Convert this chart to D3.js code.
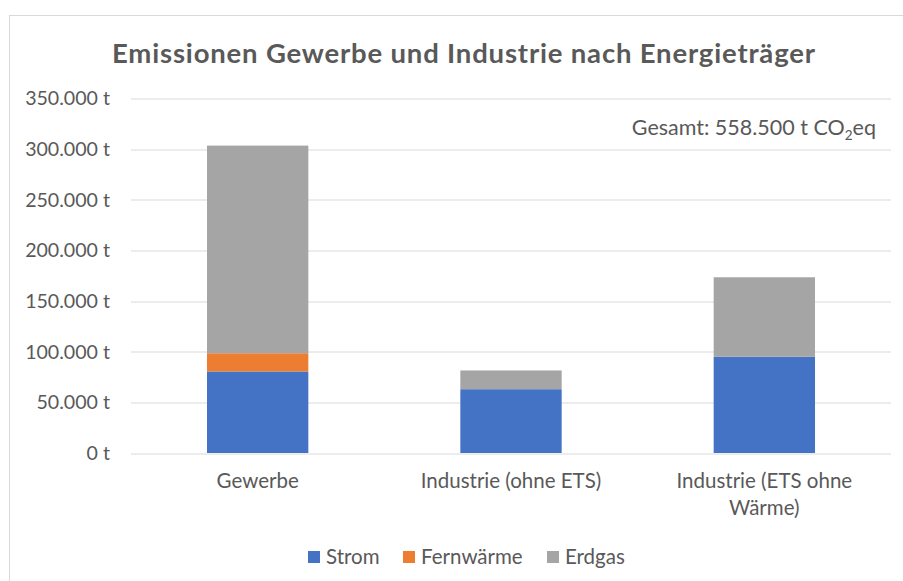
<!DOCTYPE html>
<html>
<head>
<meta charset="utf-8">
<script src="https://cdn.jsdelivr.net/npm/d3@7"></script>
<style>
  body { margin: 0; background: #fff; }
  svg { font-family: Lato, "Open Sans", sans-serif; }
  .grid line { stroke: #d9d9d9; stroke-width: 1; }
  .tick-label { fill: #595959; font-size: 20.5px; }
  .y-label { font-size: 19.6px; }
  .note { fill: #595959; font-size: 21.5px; }
  .title { fill: #595959; font-size: 27.5px; font-weight: bold; }
</style>
</head>
<body>
<div id="chart"></div>
<script>
// Data (tonnes CO2eq, in thousands)
const categories = ["Gewerbe", "Industrie (ohne ETS)", "Industrie (ETS ohne Wärme)"];
const series = ["Strom", "Fernwärme", "Erdgas"];
const strom = [80.5, 63, 95];
const fernwaerme = [18, 0, 0];
const erdgas = [205, 18.5, 78.5];
const yTicks = [0, 50, 100, 150, 200, 250, 300, 350];
const colors = ["#4472C4", "#ED7D31", "#A5A5A5"];
const totalLabel = "558.500";

const W = 903, H = 581;
const margin = { top: 98.5, right: 12, bottom: 128, left: 131 };
const width = 891 - margin.left;
const height = 453 - margin.top;

const svg = d3.select("#chart").append("svg")
    .attr("width", W)
    .attr("height", H);

// chart border
svg.append("rect")
    .attr("x", 9.5).attr("y", 15.5)
    .attr("width", W + 20).attr("height", H + 20)
    .attr("fill", "none")
    .attr("stroke", "#d9d9d9");

const g = svg.append("g")
    .attr("transform", `translate(${margin.left},${margin.top})`);

// title
svg.append("text")
    .attr("class", "title")
    .attr("x", 112)
    .attr("y", 63)
    .attr("textLength", 703)
    .attr("lengthAdjust", "spacing")
    .text("Emissionen Gewerbe und Industrie nach Energieträger");

const x = d3.scaleBand()
    .domain(categories)
    .range([0, width])
    .paddingInner(0.6)
    .paddingOuter(0.3);

const y = d3.scaleLinear()
    .domain([0, 350])
    .range([height, 0]);

// gridlines
const grid = g.append("g").attr("class", "grid");
grid.selectAll("line")
    .data(yTicks)
    .join("line")
    .attr("x1", 0)
    .attr("x2", width)
    .attr("y1", d => Math.round(y(d)) + 0.5)
    .attr("y2", d => Math.round(y(d)) + 0.5);

// y labels
g.append("g").selectAll("text")
    .data(yTicks)
    .join("text")
    .attr("class", "tick-label y-label")
    .attr("x", -21)
    .attr("y", d => y(d))
    .attr("dy", "0.35em")
    .attr("text-anchor", "end")
    .text(d => (d === 0 ? "0 t" : d + ".000 t"));

// stacked bars
const rows = categories.map((c, i) => ({
    cat: c, Strom: strom[i], "Fernwärme": fernwaerme[i], Erdgas: erdgas[i]
}));
const stack = d3.stack().keys(series)(rows);

g.selectAll(".layer")
    .data(stack)
    .join("g")
    .attr("class", "layer")
    .attr("fill", (d, i) => colors[i])
    .selectAll("rect")
    .data(d => d)
    .join("rect")
    .attr("x", d => x(d.data.cat))
    .attr("width", x.bandwidth())
    .attr("y", d => y(d[1]))
    .attr("height", d => y(d[0]) - y(d[1]));

// category labels (wrapped)
const catG = g.append("g");
categories.forEach(c => {
    const cx = x(c) + x.bandwidth() / 2;
    const t = catG.append("text")
        .attr("class", "tick-label")
        .attr("text-anchor", "middle")
        .attr("x", cx)
        .attr("y", height + 35);
    const words = c.split(" ");
    let line = [];
    let tspan = t.append("tspan").attr("x", cx).attr("dy", 0);
    words.forEach(w => {
        line.push(w);
        tspan.text(line.join(" "));
        if (tspan.node().getComputedTextLength() > 220 && line.length > 1) {
            line.pop();
            tspan.text(line.join(" "));
            line = [w];
            tspan = t.append("tspan")
                .attr("x", cx)
                .attr("dy", 27)
                .text(w);
        }
    });
});

// total annotation
const ann = svg.append("text")
    .attr("class", "note")
    .attr("x", 876)
    .attr("y", 135)
    .attr("text-anchor", "end");
ann.append("tspan").text(`Gesamt: ${totalLabel} t CO`);
ann.append("tspan").attr("font-size", "13.5px").attr("dy", 5).text("2");
ann.append("tspan").attr("dy", -5).text("eq");

// legend
const legendX = [308, 403, 547];
const legend = svg.append("g");
series.forEach((s, i) => {
    legend.append("rect")
        .attr("x", legendX[i]).attr("y", 551)
        .attr("width", 12).attr("height", 12)
        .attr("fill", colors[i]);
    legend.append("text")
        .attr("class", "tick-label")
        .attr("x", legendX[i] + 18)
        .attr("y", 557)
        .attr("dy", "0.35em")
        .text(s);
});
</script>
</body>
</html>
